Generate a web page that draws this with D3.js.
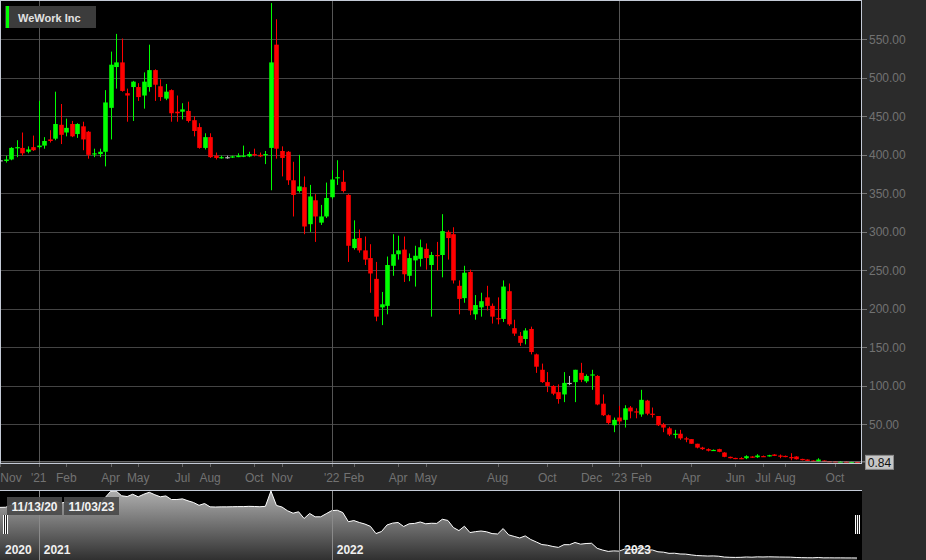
<!DOCTYPE html>
<html>
<head>
<meta charset="utf-8">
<script src="https://cdn.jsdelivr.net/npm/d3@7"></script>
<style>
  html, body { margin: 0; padding: 0; background: #2b2b2b; }
  svg { display: block; font-family: "Liberation Sans", Arial, sans-serif; }
</style>
</head>
<body>
<svg id="chart" width="926" height="560"></svg>
<script>
// weekly candles, first Friday of the series
const startDate = new Date(2020, 10, 13);
const seriesName = "WeWork Inc";

const opens = [393,392,394,409,409,404,410,410,412,420,421,439,429,440,427,437,430,401,401,404,
  461,514,520,480,488,488,477,488,510,489,473,484,456,456,457,445,436,409,423,399,
  396,397,397,397,398,398,401,400,400,409,543,405,404,367,353,358,310,341,312,320,
  345,370,365,348,279,292,276,266,239,202,204,256,271,277,243,263,265,278,257,270,
  270,300,297,230,214,248,193,202,215,204,188,187,223,175,165,161,174,141,121,105,
  100,92,89,104,105,117,106,114,113,77,62,49,59,56,72,67,63,81,64,61,
  50,45,37,38,32,31,25,20,18,16,18,13.6,8,6.6,6.4,6.2,8.4,7.5,9,8.8,
  11,9.7,9.2,7.7,8.4,5.3,4.5,3.2,1.9,3.2,2.4,2.2,1.6,1.9,1.2,1.4];
const highs = [395,399,410,419,429,411,425,470,423,432,482,466,447,444,441,443,431,408,408,484,
  534,557,551,486,496,493,507,543,511,498,492,485,477,467,469,450,441,428,428,403,
  399,399,399,402,412,404,408,403,405,597,576,411,405,391,400,372,361,349,335,364,
  380,393,380,349,315,303,294,284,261,222,268,297,295,294,272,282,290,285,274,287,
  323,302,306,237,256,251,218,221,230,207,215,237,233,186,170,175,177,142,129,118,
  101,102,118,113,121,130,115,121,114,89,63,59,74,75,74,71,95,82,72,61,
  52,47,43,43,34,31,25,21,19,17.5,18.5,14,8.3,6.8,7.5,10,8.8,11.4,9.7,10.6,
  11.4,11,9.7,12.7,8.8,5.5,4.7,3.4,6.2,3.4,2.6,2.3,2.6,2.0,1.6,1.5];
const lows = [391,390,393,397,399,402,405,408,408,416,419,414,424,423,422,406,395,397,397,385,
  420,486,482,443,444,470,460,482,470,470,471,443,443,446,442,424,408,407,396,394,
  395,395,396,397,397,397,398,397,388,354,395,372,361,320,351,297,300,287,309,318,
  343,361,351,261,277,273,257,221,184,179,193,243,264,235,236,229,255,251,190,250,
  241,264,233,193,208,192,186,190,198,181,180,183,178,165,152,154,141,117,104,92,
  88,77,79,101,79,105,104,95,75,61,50,40,50,46,58,58,60,62,59,48,
  40,35,32,30,27,25,19,17,15,16,14,7.5,6,5,5,5,6.6,6.6,8,8.4,
  9,6.2,7.5,3.6,4.5,3.4,2.5,2.1,1.8,1.8,2.0,1.6,1.2,1.2,1.0,0.8];
const closes = [393,394,409,410,402,407,406,412,418,418,440,426,435,424,440,420,400,402,404,468,
  517,520,483,477,495,475,495,510,491,475,482,454,454,459,444,431,409,423,397,396,
  397,397,398,399,399,401,400,398,401,520,408,396,367,348,359,307,346,320,320,344,
  368,371,353,282,291,276,264,246,190,206,257,271,276,245,266,269,280,266,270,269,
  301,292,237,213,247,198,205,210,204,190,187,229,180,168,156,172,144,125,105,100,
  90,83,104,104,121,108,113,115,76,62,52,56,54,71,67,66,82,64,63,49,
  46,37,38,32,31,25,20,18,16,17,14.5,8,6.2,5.4,6.1,8.8,7.1,9.7,8.7,10.1,
  9.2,8.4,7.9,7.4,4.9,3.6,2.7,2.3,4.5,1.9,2.2,1.8,1.9,1.4,1.4,0.84];

// x-axis labels and the month each one marks
const tickLabels = ["Nov","'21","Feb","Apr","May","Jul","Aug","Oct","Nov","'22","Feb","Apr","May",
  "Aug","Oct","Dec","'23","Feb","Apr","Jun","Jul","Aug","Oct"];
const tickMonths = ["2020-11","2021-01","2021-02","2021-04","2021-05","2021-07","2021-08","2021-10",
  "2021-11","2022-01","2022-02","2022-04","2022-05","2022-08","2022-10","2022-12","2023-01",
  "2023-02","2023-04","2023-06","2023-07","2023-08","2023-10"];
const yTicks = [50,100,150,200,250,300,350,400,450,500,550];
const navYears = ["2020","2021","2022","2023"];
const navYearMonths = ["2020-11","2021-01","2022-01","2023-01"];
const rangeLabels = ["11/13/20","11/03/23"];

const dates = opens.map((d, i) => d3.timeDay.offset(startDate, i * 7));
const candles = opens.map((o, i) => ({ i, o, h: highs[i], l: lows[i], c: closes[i] }));

// ordinal style axis: a month tick sits on the first candle of that month
const parseMonth = d3.timeParse("%Y-%m");
const indexOf = m => {
  const t = parseMonth(m);
  return dates.findIndex(d => d >= t);
};

const plot = { left: 0, top: 0, width: 862, height: 463 };
const nav = { top: 490, bottom: 560 };

const svg = d3.select("#chart");

const x = d3.scaleLinear()
  .domain([0, dates.length - 1])
  .range([0, 857]);

const y = d3.scaleLinear()
  .domain([0, 601])
  .range([plot.height, 0]);

const step = x(1) - x(0);
const bodyW = step * 0.83;

// backgrounds
svg.append("rect").attr("width", 926).attr("height", 560).attr("fill", "#2b2b2b");
svg.append("rect")
  .attr("x", plot.left).attr("y", plot.top)
  .attr("width", plot.width).attr("height", plot.height)
  .attr("fill", "#000");

const clip = svg.append("clipPath").attr("id", "plot-clip");
clip.append("rect").attr("width", plot.width).attr("height", plot.height);

// horizontal grid
svg.append("g")
  .selectAll("line")
  .data(yTicks)
  .enter()
  .append("line")
  .attr("x1", 0).attr("x2", plot.width)
  .attr("y1", d => Math.round(y(d)) + 0.5)
  .attr("y2", d => Math.round(y(d)) + 0.5)
  .attr("stroke", "#444");

// year grid lines
const yearTicks = tickLabels.map((t, i) => ({ t, k: indexOf(tickMonths[i]) }))
  .filter(d => d.t.startsWith("'"));

svg.append("g")
  .selectAll("line")
  .data(yearTicks)
  .enter()
  .append("line")
  .attr("x1", d => Math.round(x(d.k)) + 0.5)
  .attr("x2", d => Math.round(x(d.k)) + 0.5)
  .attr("y1", 0).attr("y2", plot.height)
  .attr("stroke", "#555");

// candles
const colorOf = d => d.c > d.o ? "#00ff00" : (d.c < d.o ? "#ff0000" : "#b4b4b4");
const candleG = svg.append("g").attr("clip-path", "url(#plot-clip)");

const candle = candleG.selectAll(".candle")
  .data(candles)
  .enter()
  .append("g")
  .attr("class", "candle");

candle.append("line")
  .attr("x1", d => Math.round(x(d.i)) + 0.5)
  .attr("x2", d => Math.round(x(d.i)) + 0.5)
  .attr("y1", d => y(d.h))
  .attr("y2", d => y(d.l))
  .attr("stroke", colorOf)
  .attr("stroke-width", 1);

candle.append("rect")
  .attr("x", d => Math.round(x(d.i)) + 0.5 - bodyW / 2)
  .attr("width", bodyW)
  .attr("y", d => Math.min(y(d.o), y(d.c)))
  .attr("height", d => Math.max(1.2, Math.abs(y(d.o) - y(d.c))))
  .attr("fill", colorOf);

// last price line
const last = closes[closes.length - 1];
svg.append("line")
  .attr("x1", 0).attr("x2", 865)
  .attr("y1", y(last) - 0.5).attr("y2", y(last) - 0.5)
  .attr("stroke", "#9a9a9a");

// plot border
svg.append("rect")
  .attr("x", 0.5).attr("y", 0.5)
  .attr("width", plot.width - 1).attr("height", plot.height)
  .attr("fill", "none")
  .attr("stroke", "#c4cad6");

// legend
const legend = svg.append("g").attr("transform", "translate(5,6)");
legend.append("rect").attr("width", 91).attr("height", 22).attr("fill", "#3c3c3c");
legend.append("rect").attr("x", 1).attr("width", 3).attr("height", 22).attr("fill", "#00ff00");
legend.append("text")
  .attr("x", 13).attr("y", 15.5)
  .attr("fill", "#e2e2e2")
  .style("font-size", "11px")
  .style("font-weight", "bold")
  .text(seriesName);

// y axis on the right
const yAxis = svg.append("g");
yAxis.selectAll("line")
  .data(yTicks)
  .enter()
  .append("line")
  .attr("x1", plot.width).attr("x2", plot.width + 5)
  .attr("y1", d => Math.round(y(d)) + 0.5)
  .attr("y2", d => Math.round(y(d)) + 0.5)
  .attr("stroke", "#777");

yAxis.selectAll("text")
  .data(yTicks)
  .enter()
  .append("text")
  .attr("x", 869)
  .attr("y", d => y(d) + 4.5)
  .attr("fill", "#727272")
  .style("font-size", "12px")
  .text(d => d3.format(".2f")(d));

// last price label
svg.append("rect")
  .attr("x", 865.5).attr("y", y(last) - 7)
  .attr("width", 28).attr("height", 14)
  .attr("fill", "#c6c6c6")
  .attr("stroke", "#8c8c8c");
svg.append("text")
  .attr("x", 879.5).attr("y", y(last) + 4.5)
  .attr("text-anchor", "middle")
  .attr("fill", "#111")
  .style("font-size", "12px")
  .text(last.toFixed(2));

// x axis
const xTicks = tickLabels.map((t, i) => ({ t, k: indexOf(tickMonths[i]) }));
const xAxis = svg.append("g");
xAxis.selectAll("line")
  .data(xTicks)
  .enter()
  .append("line")
  .attr("x1", d => Math.round(x(d.k)) + 0.5)
  .attr("x2", d => Math.round(x(d.k)) + 0.5)
  .attr("y1", plot.height + 1).attr("y2", plot.height + 4)
  .attr("stroke", "#666");

xAxis.selectAll("text")
  .data(xTicks)
  .enter()
  .append("text")
  .attr("x", d => Math.max(x(d.k), 11))
  .attr("y", 481.5)
  .attr("text-anchor", "middle")
  .attr("fill", "#727272")
  .style("font-size", "12px")
  .text(d => d.t);

// navigator
const yNav = d3.scaleLinear()
  .domain(d3.extent(closes))
  .range([nav.bottom - 2, nav.top + 1]);

svg.append("rect")
  .attr("x", 0).attr("y", nav.top)
  .attr("width", plot.width).attr("height", nav.bottom - nav.top)
  .attr("fill", "#000");

const grad = svg.append("defs").append("linearGradient")
  .attr("id", "nav-fill")
  .attr("gradientUnits", "userSpaceOnUse")
  .attr("x1", 0).attr("x2", 0)
  .attr("y1", nav.top).attr("y2", nav.bottom);
grad.append("stop").attr("offset", 0).attr("stop-color", "#b0b0b0");
grad.append("stop").attr("offset", 1).attr("stop-color", "#303030");

const navArea = d3.area()
  .x((d, i) => x(i))
  .y0(nav.bottom)
  .y1(d => yNav(d));

const navLine = d3.line()
  .x((d, i) => x(i))
  .y(d => yNav(d));

svg.append("path")
  .datum(closes)
  .attr("d", navArea)
  .attr("fill", "url(#nav-fill)");

svg.append("path")
  .datum(closes)
  .attr("d", navLine)
  .attr("fill", "none")
  .attr("stroke", "#fff")
  .attr("stroke-width", 1);

const navYearTicks = navYears.map((t, i) => ({ t, k: indexOf(navYearMonths[i]) }));

svg.append("g")
  .selectAll("line")
  .data(navYearTicks.slice(1))
  .enter()
  .append("line")
  .attr("x1", d => Math.round(x(d.k)) + 0.5)
  .attr("x2", d => Math.round(x(d.k)) + 0.5)
  .attr("y1", nav.top).attr("y2", nav.bottom)
  .attr("stroke", "#8a8a8a");

svg.append("g")
  .selectAll("text")
  .data(navYearTicks)
  .enter()
  .append("text")
  .attr("x", d => x(d.k) + 5)
  .attr("y", 554)
  .attr("fill", "#f0f0f0")
  .style("font-size", "12px")
  .style("font-weight", "bold")
  .text(d => d.t);

svg.append("line")
  .attr("x1", 0).attr("x2", plot.width)
  .attr("y1", nav.top + 0.5).attr("y2", nav.top + 0.5)
  .attr("stroke", "#c4cad6");

// range date boxes
const rangeG = svg.append("g");
rangeLabels.forEach((t, i) => {
  const bx = 7 + i * 57;
  rangeG.append("rect")
    .attr("x", bx).attr("y", 497)
    .attr("width", 55).attr("height", 18)
    .attr("fill", "#4a4a4a")
    .attr("fill-opacity", 0.92);
  rangeG.append("text")
    .attr("x", bx + 27.5).attr("y", 510.5)
    .attr("text-anchor", "middle")
    .attr("fill", "#f2f2f2")
    .style("font-size", "12px")
    .style("font-weight", "bold")
    .text(t);
});

// navigator handles
[3, 855].forEach(hx => {
  const hg = svg.append("g").attr("transform", `translate(${hx},515)`);
  hg.append("rect").attr("width", 5).attr("height", 19).attr("fill", "#222");
  [0, 2, 4].forEach(dx => {
    hg.append("rect").attr("x", dx).attr("width", 1).attr("height", 19).attr("fill", "#fff");
  });
});
</script>
</body>
</html>
